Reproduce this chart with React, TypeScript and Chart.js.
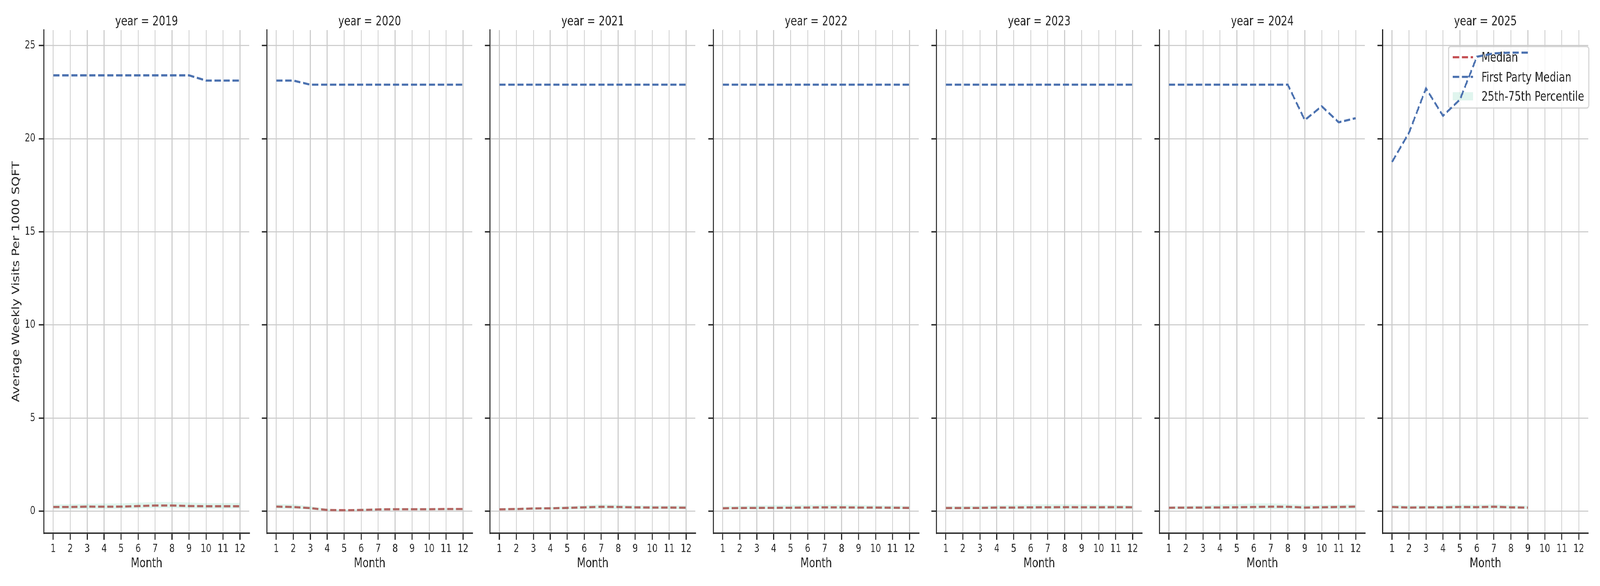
import React, { useEffect, useRef } from 'react';
import { Chart, registerables } from 'chart.js';

Chart.register(...registerables);

// ---------- data ----------
const months = [1, 2, 3, 4, 5, 6, 7, 8, 9, 10, 11, 12];
const monthTicks = [1, 2, 3, 4, 5, 6, 7, 8, 9, 10, 11, 12];
const yTicks = [0, 5, 10, 15, 20, 25];
const years = [2019, 2020, 2021, 2022, 2023, 2024, 2025];

const firstParty2019 = [23.4, 23.4, 23.4, 23.4, 23.4, 23.4, 23.4, 23.4, 23.4, 23.12, 23.12, 23.12];
const firstParty2020 = [23.12, 23.12, 22.9, 22.9, 22.9, 22.9, 22.9, 22.9, 22.9, 22.9, 22.9, 22.9];
const firstParty2021 = [22.9, 22.9, 22.9, 22.9, 22.9, 22.9, 22.9, 22.9, 22.9, 22.9, 22.9, 22.9];
const firstParty2022 = [22.9, 22.9, 22.9, 22.9, 22.9, 22.9, 22.9, 22.9, 22.9, 22.9, 22.9, 22.9];
const firstParty2023 = [22.9, 22.9, 22.9, 22.9, 22.9, 22.9, 22.9, 22.9, 22.9, 22.9, 22.9, 22.9];
const firstParty2024 = [22.9, 22.9, 22.9, 22.9, 22.9, 22.9, 22.9, 22.9, 21.0, 21.74, 20.88, 21.1];
const firstParty2025 = [18.75, 20.32, 22.7, 21.23, 22.1, 24.4, 24.58, 24.62, 24.62, null, null, null];

const median2019 = [0.23, 0.23, 0.25, 0.245, 0.25, 0.28, 0.31, 0.31, 0.28, 0.27, 0.27, 0.27];
const median2020 = [0.25, 0.23, 0.17, 0.07, 0.056, 0.07, 0.1, 0.11, 0.11, 0.11, 0.12, 0.12];
const median2021 = [0.105, 0.12, 0.15, 0.16, 0.18, 0.21, 0.24, 0.23, 0.21, 0.2, 0.2, 0.19];
const median2022 = [0.16, 0.175, 0.18, 0.185, 0.19, 0.2, 0.21, 0.21, 0.2, 0.2, 0.19, 0.18];
const median2023 = [0.175, 0.175, 0.18, 0.2, 0.2, 0.21, 0.215, 0.22, 0.215, 0.215, 0.22, 0.215];
const median2024 = [0.19, 0.195, 0.2, 0.205, 0.215, 0.23, 0.245, 0.24, 0.2, 0.215, 0.23, 0.25];
const median2025 = [0.23, 0.2, 0.21, 0.21, 0.23, 0.22, 0.245, 0.21, 0.196, null, null, null];

const p25_2019 = [0.12, 0.12, 0.13, 0.13, 0.13, 0.15, 0.17, 0.17, 0.15, 0.14, 0.14, 0.15];
const p75_2019 = [0.36, 0.38, 0.4, 0.41, 0.42, 0.46, 0.5, 0.5, 0.47, 0.43, 0.44, 0.45];
const p25_2020 = [0.14, 0.13, 0.09, 0.02, 0.01, 0.02, 0.04, 0.056, 0.056, 0.056, 0.056, 0.056];
const p75_2020 = [0.39, 0.37, 0.27, 0.13, 0.09, 0.13, 0.15, 0.16, 0.16, 0.16, 0.16, 0.16];
const p25_2021 = [0.056, 0.056, 0.077, 0.085, 0.09, 0.11, 0.126, 0.126, 0.11, 0.105, 0.105, 0.105];
const p75_2021 = [0.16, 0.18, 0.21, 0.23, 0.27, 0.32, 0.37, 0.35, 0.32, 0.31, 0.31, 0.31];
const p25_2022 = [0.09, 0.105, 0.105, 0.105, 0.105, 0.105, 0.105, 0.105, 0.105, 0.105, 0.105, 0.105];
const p75_2022 = [0.27, 0.29, 0.31, 0.33, 0.34, 0.34, 0.35, 0.35, 0.34, 0.32, 0.31, 0.29];
const p25_2023 = [0.1, 0.1, 0.1, 0.1, 0.1, 0.1, 0.1, 0.1, 0.1, 0.1, 0.1, 0.1];
const p75_2023 = [0.27, 0.28, 0.3, 0.32, 0.34, 0.36, 0.37, 0.37, 0.36, 0.35, 0.34, 0.32];
const p25_2024 = [0.09, 0.11, 0.11, 0.11, 0.11, 0.11, 0.11, 0.11, 0.11, 0.11, 0.11, 0.11];
const p75_2024 = [0.27, 0.29, 0.32, 0.35, 0.38, 0.42, 0.42, 0.39, 0.34, 0.34, 0.35, 0.38];
const p25_2025 = [0.14, 0.11, 0.126, 0.126, 0.126, 0.126, 0.126, 0.126, 0.126, null, null, null];
const p75_2025 = [0.35, 0.32, 0.32, 0.34, 0.36, 0.35, 0.37, 0.34, 0.3, null, null, null];

const firstPartySeries = [firstParty2019, firstParty2020, firstParty2021, firstParty2022, firstParty2023, firstParty2024, firstParty2025];
const medianSeries = [median2019, median2020, median2021, median2022, median2023, median2024, median2025];
const p25Series = [p25_2019, p25_2020, p25_2021, p25_2022, p25_2023, p25_2024, p25_2025];
const p75Series = [p75_2019, p75_2020, p75_2021, p75_2022, p75_2023, p75_2024, p75_2025];

const legendLabels = ['Median', 'First Party Median', '25th-75th Percentile'];
const yAxisLabel = 'Average Weekly Visits Per 1000 SQFT';
const xAxisLabel = 'Month';

// ---------- style ----------
const FONT = "'DejaVu Sans', 'Liberation Sans', sans-serif";
const DARK = '#262626';
const RED = '#c44e52';
const BLUE = '#4c72b0';
const BAND = 'rgba(102,205,170,0.2)';
const GRID = '#cccccc';
const FIG_W = 5250;
const FIG_H = 1500;
const PITCH = 732.17;
const CANVAS_W = 840;
const CANVAS_H = 1500;
const LW = 5.56;
const DASH = [20.6, 8.9];

function toPoints(arr: (number | null)[]) {
  return months.map((m, k) => ({ x: m, y: arr[k] }));
}

function drawLegend(chart: any) {
  const ctx = chart.ctx;
  const ca = chart.chartArea;
  const R = ca.right + 2;
  const W = 460;
  const L = R - W;
  const T = ca.top + 42;
  const H = 157.5;
  const r = 7;
  ctx.save();
  ctx.beginPath();
  ctx.moveTo(L + r, T);
  ctx.lineTo(L + W - r, T);
  ctx.arcTo(L + W, T, L + W, T + r, r);
  ctx.lineTo(L + W, T + H - r);
  ctx.arcTo(L + W, T + H, L + W - r, T + H, r);
  ctx.lineTo(L + r, T + H);
  ctx.arcTo(L, T + H, L, T + H - r, r);
  ctx.lineTo(L, T + r);
  ctx.arcTo(L, T, L + r, T, r);
  ctx.closePath();
  ctx.fillStyle = 'rgba(255,255,255,0.8)';
  ctx.fill();
  ctx.lineWidth = 3.5;
  ctx.strokeStyle = 'rgba(204,204,204,0.8)';
  ctx.stroke();

  const rows = [T + 27.5, T + 77.8, T + 127.5];
  const hx0 = L + 14;
  const hx1 = L + 80;
  ctx.setLineDash(DASH);
  ctx.lineCap = 'butt';
  ctx.lineWidth = LW;
  ctx.strokeStyle = RED;
  ctx.beginPath();
  ctx.moveTo(hx0, rows[0]);
  ctx.lineTo(hx1, rows[0]);
  ctx.stroke();
  ctx.strokeStyle = BLUE;
  ctx.beginPath();
  ctx.moveTo(hx0, rows[1]);
  ctx.lineTo(hx1, rows[1]);
  ctx.stroke();
  ctx.setLineDash([]);
  ctx.fillStyle = BAND;
  ctx.fillRect(hx0, rows[2] - 10.5, hx1 - hx0, 21);

  ctx.fillStyle = DARK;
  ctx.font = `33px ${FONT}`;
  ctx.textAlign = 'left';
  ctx.textBaseline = 'alphabetic';
  legendLabels.forEach((t, i) => {
    ctx.fillText(t, L + 108, rows[i] + 11.8);
  });
  ctx.restore();
}

function Panel({ index }: { index: number }) {
  const ref = useRef<HTMLCanvasElement | null>(null);
  useEffect(() => {
    if (!ref.current) return;
    const isFirst = index === 0;
    const isLast = index === years.length - 1;
    const decor = {
      id: 'panelDecor' + index,
      beforeDatasetsDraw(chart: any) {
        if (isLast) drawLegend(chart);
      },
      afterDraw(chart: any) {
        const ctx = chart.ctx;
        const ca = chart.chartArea;
        ctx.save();
        ctx.fillStyle = DARK;
        ctx.font = `33px ${FONT}`;
        ctx.textAlign = 'center';
        ctx.textBaseline = 'alphabetic';
        ctx.fillText(`year = ${years[index]}`, (ca.left + ca.right) / 2, 65);
        ctx.restore();
      },
    };
    const lineBase = {
      pointRadius: 0,
      pointHoverRadius: 0,
      tension: 0,
      borderWidth: LW,
      borderDash: DASH,
      borderCapStyle: 'butt' as const,
      spanGaps: false,
      fill: false,
    };
    const chart = new Chart(ref.current, {
      type: 'line',
      data: {
        datasets: [
          {
            label: '25th Percentile',
            data: toPoints(p25Series[index]),
            borderWidth: 0,
            borderColor: 'rgba(0,0,0,0)',
            pointRadius: 0,
            fill: false,
            tension: 0,
          },
          {
            label: legendLabels[2],
            data: toPoints(p75Series[index]),
            borderWidth: 0,
            borderColor: 'rgba(0,0,0,0)',
            backgroundColor: BAND,
            pointRadius: 0,
            fill: '-1',
            tension: 0,
          },
          {
            ...lineBase,
            label: legendLabels[0],
            data: toPoints(medianSeries[index]),
            borderColor: RED,
          },
          {
            ...lineBase,
            label: legendLabels[1],
            data: toPoints(firstPartySeries[index]),
            borderColor: BLUE,
          },
        ],
      },
      options: {
        animation: false,
        responsive: false,
        devicePixelRatio: 1,
        events: [],
        layout: { padding: { left: 0, right: CANVAS_W - 818, top: 77, bottom: 0 } },
        plugins: {
          legend: { display: false },
          tooltip: { enabled: false },
          title: { display: false },
        },
        scales: {
          x: {
            type: 'linear',
            min: 0.45,
            max: 12.55,
            afterBuildTicks: (s: any) => {
              s.ticks = monthTicks.map((v) => ({ value: v }));
            },
            afterFit: (s: any) => {
              s.height = CANVAS_H - 1365;
            },
            ticks: {
              autoSkip: false,
              maxRotation: 0,
              minRotation: 0,
              padding: 7,
              color: DARK,
              font: { size: 27.8, family: FONT },
              callback: (v: any) => String(v),
            },
            grid: {
              color: GRID,
              lineWidth: 2.8,
              drawTicks: true,
              tickLength: 16.7,
              tickColor: DARK,
              tickWidth: 3.5,
            },
            border: { display: true, color: DARK, width: 3.5 },
            title: {
              display: true,
              text: xAxisLabel,
              color: DARK,
              font: { size: 33, family: FONT },
              padding: { top: 0, bottom: 37 },
            },
          },
          y: {
            type: 'linear',
            min: -1.18,
            max: 25.83,
            afterBuildTicks: (s: any) => {
              s.ticks = yTicks.map((v) => ({ value: v }));
            },
            afterFit: (s: any) => {
              s.width = 144;
            },
            ticks: {
              padding: 11,
              color: DARK,
              font: { size: 27.8, family: FONT },
              callback: (v: any) => (isFirst ? String(v) : ''),
            },
            grid: {
              color: GRID,
              lineWidth: 2.8,
              drawTicks: true,
              tickLength: 16.7,
              tickColor: DARK,
              tickWidth: 3.5,
            },
            border: { display: true, color: DARK, width: 3.5 },
            title: {
              display: isFirst,
              text: yAxisLabel,
              color: DARK,
              font: { size: 33, family: FONT },
              padding: { top: 35, bottom: 0 },
            },
          },
        },
      },
      plugins: [decor],
    } as any);
    return () => chart.destroy();
  }, [index]);
  return (
    <canvas
      ref={ref}
      width={CANVAS_W}
      height={CANVAS_H}
      style={{
        position: 'absolute',
        left: Math.round(index * PITCH),
        top: 0,
        width: CANVAS_W,
        height: CANVAS_H,
      }}
    />
  );
}

export default function App() {
  // The figure is laid out at 5250x1500; if the viewport is smaller it is
  // fitted into the visible frame so that the whole figure is photographed.
  const vw = typeof window !== 'undefined' ? window.innerWidth : FIG_W;
  const vh = typeof window !== 'undefined' ? window.innerHeight : FIG_H;
  const sx = Math.min(1, vw / FIG_W);
  const sy = Math.min(1, vh / FIG_H);
  return (
    <div
      style={{
        position: 'absolute',
        left: 0,
        top: 0,
        width: FIG_W,
        height: FIG_H,
        background: '#ffffff',
        overflow: 'hidden',
        transform: `scale(${sx}, ${sy})`,
        transformOrigin: '0 0',
      }}
    >
      {years.map((y, i) => (
        <Panel key={y} index={i} />
      ))}
    </div>
  );
}
